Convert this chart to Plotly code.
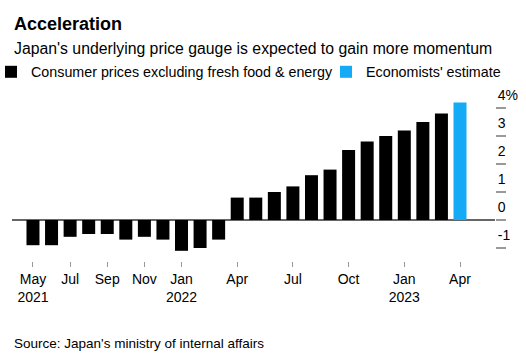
import plotly.graph_objects as go

# ---- data ----
months = ["May 2021", "Jun 2021", "Jul 2021", "Aug 2021", "Sep 2021", "Oct 2021",
          "Nov 2021", "Dec 2021", "Jan 2022", "Feb 2022", "Mar 2022", "Apr 2022",
          "May 2022", "Jun 2022", "Jul 2022", "Aug 2022", "Sep 2022", "Oct 2022",
          "Nov 2022", "Dec 2022", "Jan 2023", "Feb 2023", "Mar 2023", "Apr 2023"]
core_cpi = [-0.9, -0.9, -0.6, -0.5, -0.5, -0.7, -0.6, -0.7, -1.1, -1.0, -0.7,
            0.8, 0.8, 1.0, 1.2, 1.6, 1.8, 2.5, 2.8, 3.0, 3.2, 3.5, 3.8]
estimate_month = ["Apr 2023"]
estimate = [4.2]

x_tick_vals = ["May 2021", "Jul 2021", "Sep 2021", "Nov 2021", "Jan 2022", "Apr 2022",
               "Jul 2022", "Oct 2022", "Jan 2023", "Apr 2023"]
x_tick_text = ["May<br>2021", "Jul", "Sep", "Nov", "Jan<br>2022", "Apr",
               "Jul", "Oct", "Jan<br>2023", "Apr"]
y_tick_vals = [-1, 0, 1, 2, 3, 4]
y_tick_text = ["-1", "0", "1", "2", "3", "4%"]

FONT = "Liberation Sans, Arial, sans-serif"
BLUE = "#14aaf5"

W, H = 526, 359
ML, MR, MT, MB = 12, 0, 95, 98
PLOT_RIGHT = 495          # right edge of the bar area in px
gs_w = W - ML - MR
plot_w = PLOT_RIGHT - ML
plot_h = H - MT - MB

def py(px):
    return (H - MB - px) / plot_h

def pxx(px):
    return (px - ML) / gs_w

fig = go.Figure()
fig.add_trace(go.Bar(x=months[:len(core_cpi)], y=core_cpi, width=0.7,
                     marker=dict(color="#000000", line=dict(width=0)),
                     name="Consumer prices excluding fresh food & energy",
                     legend="legend"))
fig.add_trace(go.Bar(x=estimate_month, y=estimate, width=0.7,
                     marker=dict(color=BLUE, line=dict(width=0)),
                     name="Economists' estimate", legend="legend2"))

legend_common = dict(orientation="h", xanchor="left", yanchor="middle", y=py(72),
                     font=dict(size=14.3, color="#000000"), itemwidth=30,
                     bgcolor="rgba(0,0,0,0)")

fig.update_layout(
    width=W, height=H,
    margin=dict(l=ML, r=MR, t=MT, b=MB, autoexpand=False),
    paper_bgcolor="white", plot_bgcolor="white",
    barmode="overlay",
    font=dict(family=FONT, color="#000000"),
    showlegend=True,
    legend=dict(x=pxx(-9), **legend_common),
    legend2=dict(x=pxx(326), **legend_common),
    xaxis=dict(type="category", categoryorder="array", categoryarray=months,
               domain=[0, plot_w / gs_w],
               range=[-1.13, 24.885], tickmode="array", tickvals=x_tick_vals,
               ticktext=x_tick_text, ticks="outside", ticklen=5, tickwidth=1,
               tickcolor="#999999", showgrid=False, showline=False, zeroline=False,
               tickfont=dict(size=14, color="#000000")),
    yaxis=dict(side="right", range=[-1.464, 4.464], tickmode="array",
               tickvals=y_tick_vals, ticktext=y_tick_text, ticks="outside",
               ticklen=10, tickwidth=2, tickcolor="#999999", showgrid=False,
               showline=False, zeroline=True, zerolinecolor="#666666",
               zerolinewidth=1.5, ticklabelshift=-13, ticklabelstandoff=-11,
               tickfont=dict(size=14, color="#000000")),
    annotations=[
        dict(text="<b>Acceleration</b>", xref="paper", yref="paper", x=0, y=py(24),
             xanchor="left", yanchor="middle", showarrow=False,
             font=dict(size=18, color="#000000")),
        dict(text="Japan's underlying price gauge is expected to gain more momentum",
             xref="paper", yref="paper", x=0, y=py(48.5), xanchor="left",
             yanchor="middle", showarrow=False, font=dict(size=15.8, color="#000000")),
        dict(text="Source: Japan's ministry of internal affairs", xref="paper",
             yref="paper", x=0, y=py(343), xanchor="left", yanchor="middle",
             showarrow=False, font=dict(size=13.5, color="#000000")),
    ],
)

fig.write_html("out.html", config={"displayModeBar": False},
               post_script="document.body.style.margin='0';document.body.style.padding='0';")
